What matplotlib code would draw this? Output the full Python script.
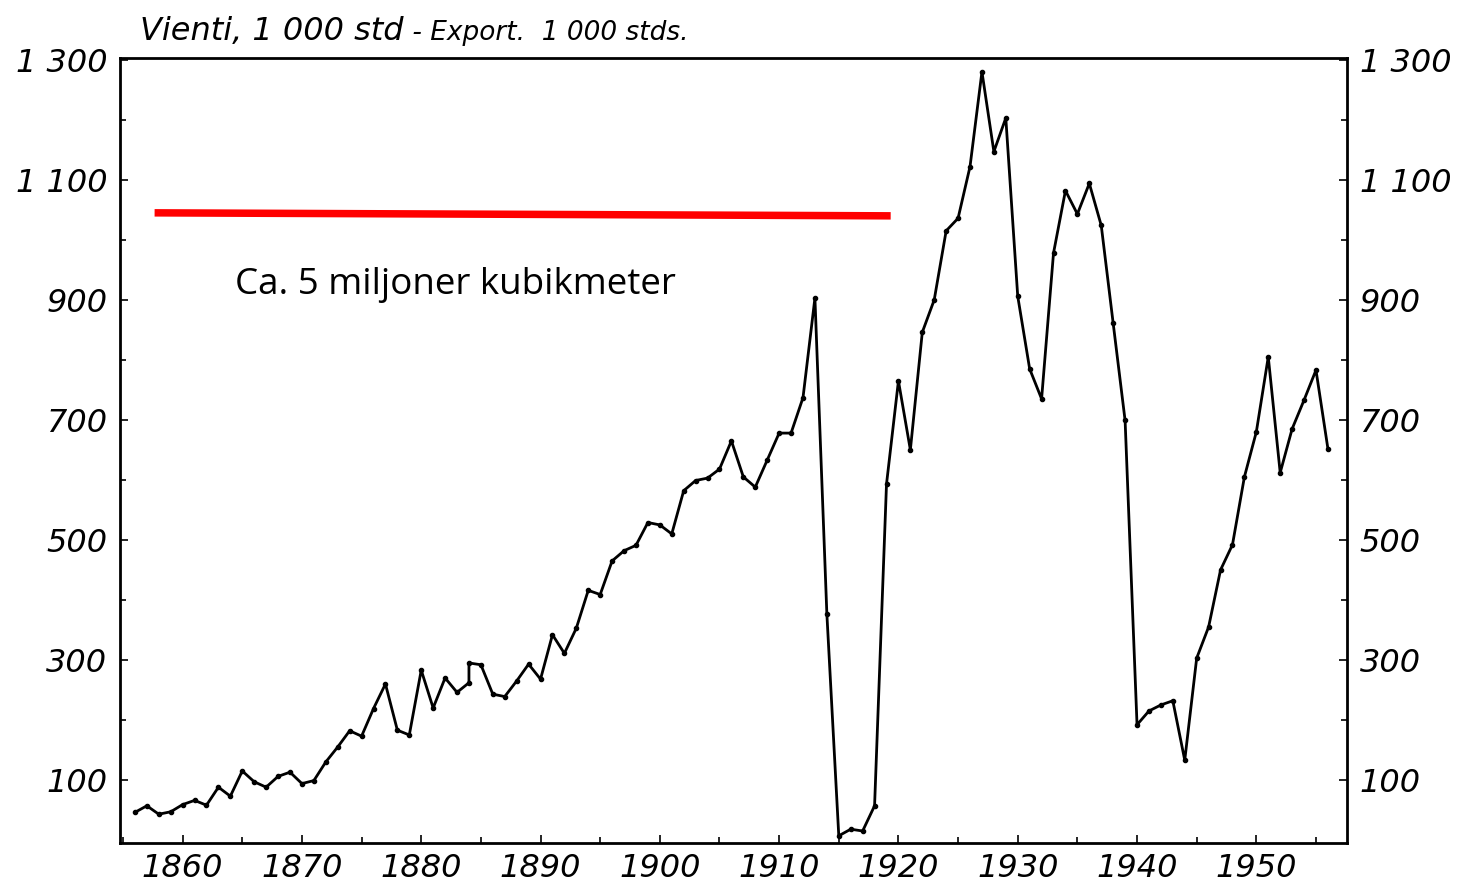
import matplotlib
matplotlib.use("Agg")
from matplotlib import pyplot as plt
from matplotlib.ticker import FixedLocator

# export, 1000 standards (1884 has two values: old and new series)
years = [
    1856, 1857, 1858, 1859, 1860, 1861, 1862, 1863, 1864, 1865,
    1866, 1867, 1868, 1869, 1870, 1871, 1872, 1873, 1874, 1875,
    1876, 1877, 1878, 1879, 1880, 1881, 1882, 1883, 1884, 1884,
    1885, 1886, 1887, 1888, 1889, 1890, 1891, 1892, 1893, 1894,
    1895, 1896, 1897, 1898, 1899, 1900, 1901, 1902, 1903, 1904,
    1905, 1906, 1907, 1908, 1909, 1910, 1911, 1912, 1913, 1914,
    1915, 1916, 1917, 1918, 1919, 1920, 1921, 1922, 1923, 1924,
    1925, 1926, 1927, 1928, 1929, 1930, 1931, 1932, 1933, 1934,
    1935, 1936, 1937, 1938, 1939, 1940, 1941, 1942, 1943, 1944,
    1945, 1946, 1947, 1948, 1949, 1950, 1951, 1952, 1953, 1954,
    1955, 1956,
]
export = [
    46, 57, 43, 47, 59, 66, 58, 88, 73, 115,
    97, 88, 106, 113, 94, 99, 130, 155, 182, 173,
    219, 260, 183, 175, 283, 220, 270, 246, 262, 295,
    292, 243, 239, 265, 293, 268, 342, 311, 353, 416,
    409, 465, 482, 491, 529, 525, 510, 582, 599, 603,
    618, 665, 605, 588, 633, 678, 678, 737, 903, 377,
    7, 18, 15, 57, 593, 765, 650, 846, 900, 1015,
    1036, 1122, 1280, 1147, 1203, 906, 785, 735, 978, 1082,
    1043, 1094, 1024, 861, 699, 192, 215, 225, 232, 133,
    303, 355, 450, 492, 605, 680, 805, 612, 685, 733,
    783, 652,
]

red_x = [1857.65, 1919.35]
red_y = [1045, 1040]

y_major = [100, 300, 500, 700, 900, 1100, 1300]
y_minor = [200, 400, 600, 800, 1000, 1200]
y_labels = ["100", "300", "500", "700", "900", "1 100", "1 300"]
x_major = [1860, 1870, 1880, 1890, 1900, 1910, 1920, 1930, 1940, 1950]
x_minor = [1855, 1865, 1875, 1885, 1895, 1905, 1915, 1925, 1935, 1945, 1955]

title_main = "Vienti, 1 000 std"
title_sub = " - Export.  1 000 stds."
note = "Ca. 5 miljoner kubikmeter"

fig = plt.figure(figsize=(14.7, 8.88), dpi=100)
ax = fig.add_axes([120 / 1470, 45 / 888, 1227 / 1470, 785 / 888])

ax.plot(years, export, color="black", lw=2, marker="o", ms=3)
ax.plot(red_x, red_y, color="#ff0000", lw=5.4, solid_capstyle="butt")

ax.set_xlim(1854.75, 1957.6)
ax.set_ylim(-5, 1303)

ax.yaxis.set_major_locator(FixedLocator(y_major))
ax.yaxis.set_minor_locator(FixedLocator(y_minor))
ax.set_yticklabels(y_labels)
ax.xaxis.set_major_locator(FixedLocator(x_major))
ax.xaxis.set_minor_locator(FixedLocator(x_minor))

for s in ax.spines.values():
    s.set_linewidth(2)

ax.tick_params(axis="both", which="both", direction="in", width=1.2, color="black")
ax.tick_params(axis="both", which="major", length=6)
ax.tick_params(axis="both", which="minor", length=4)
ax.tick_params(axis="y", which="both", left=True, right=True,
               labelleft=True, labelright=True, pad=9)
ax.tick_params(axis="x", pad=7)

for lab in ax.get_xticklabels() + ax.get_yticklabels():
    lab.set_fontsize(23)
    lab.set_fontstyle("italic")
    lab.set_family("DejaVu Sans")

ax.text(1864.36, 925, note, fontsize=26.5, family="Open Sans",
        ha="left", va="center")

# two-part title
t1 = fig.text(140 / 1470, 1 - 40 / 888, title_main, fontsize=23,
              style="italic", family="DejaVu Sans", va="baseline")
fig.canvas.draw()
bb = t1.get_window_extent()
fig.text(bb.x1 / 1470, 1 - 40 / 888, title_sub, fontsize=19,
         style="italic", family="DejaVu Sans", va="baseline")

fig.savefig("out.png", dpi=100)
